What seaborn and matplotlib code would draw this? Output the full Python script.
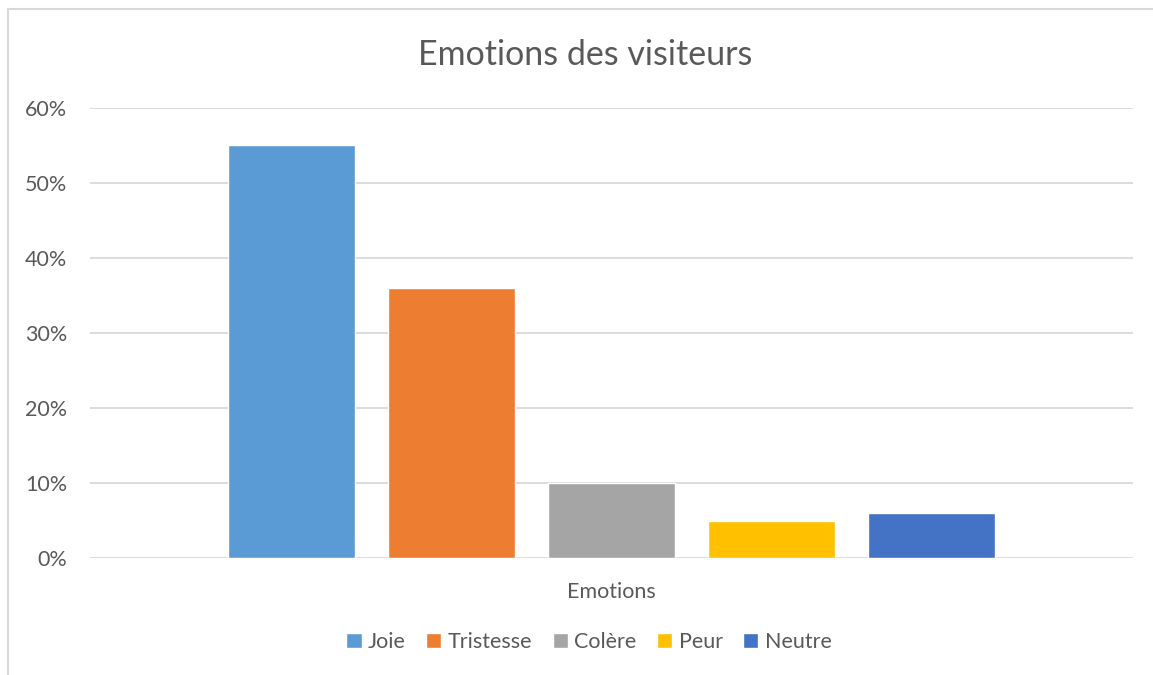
import pandas as pd
import matplotlib.pyplot as plt
import matplotlib.patches as mpatches
from matplotlib.ticker import PercentFormatter
import seaborn as sns

# data
emotions = ["Joie", "Tristesse", "Colère", "Peur", "Neutre"]
shares = [0.55, 0.36, 0.10, 0.05, 0.06]
category = ["Emotions"] * len(emotions)
colors = ["#5B9BD5", "#ED7D31", "#A5A5A5", "#FFC000", "#4472C4"]

df = pd.DataFrame({"cat": category, "emotion": emotions, "share": shares})

sns.set_theme(style="white")
plt.rcParams["font.family"] = ["Lato", "DejaVu Sans"]
text_col = "#595959"
grid_col = "#d9d9d9"

W, H = 1153, 675
fig = plt.figure(figsize=(W / 100, H / 100), dpi=100)
ax = fig.add_axes([90 / W, 117 / H, (1133 - 90) / W, 450 / H])

sns.barplot(data=df, x="cat", y="share", hue="emotion", hue_order=emotions,
            palette=colors, width=0.767, gap=0.206, saturation=1,
            legend=True, ax=ax)

ax.set_ylim(0, 0.6)
ax.set_xlim(-0.5, 0.5)
ax.yaxis.set_major_formatter(PercentFormatter(1.0, decimals=0))
ax.set_yticks([0, 0.1, 0.2, 0.3, 0.4, 0.5, 0.6])
ax.grid(axis="y", color=grid_col, linewidth=1.3)
ax.set_axisbelow(True)
for s in ax.spines.values():
    s.set_visible(False)
ax.tick_params(axis="y", length=0, pad=16.5, labelsize=15.5, labelcolor=text_col)
ax.tick_params(axis="x", length=0, pad=17, labelsize=15.5, labelcolor=text_col)
ax.set_xlabel("")
ax.set_ylabel("")

fig.text(585 / W, 1 - 55 / H, "Emotions des visiteurs", ha="center", va="center",
         fontsize=24.5, color=text_col)

handles, labels = ax.get_legend_handles_labels()
ax.get_legend().remove()
fig.legend(handles, labels, loc="center", bbox_to_anchor=(589 / W, 1 - 642 / H),
           ncol=5, frameon=False, fontsize=15.5, handlelength=0.7, handleheight=0.7,
           handletextpad=0.3, columnspacing=0.95, labelcolor=text_col)

# chart frame like the Excel border
fig.patches.append(mpatches.Rectangle((8 / W, -0.1), 1.2, (H - 9) / H + 0.1,
                                      transform=fig.transFigure, fill=False,
                                      edgecolor=grid_col, linewidth=1.5))

fig.savefig("out.png", dpi=100, facecolor="white")
